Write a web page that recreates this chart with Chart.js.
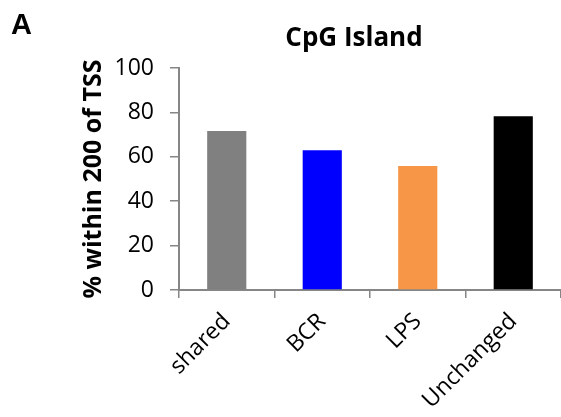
<!DOCTYPE html>
<html>
<head>
<meta charset="utf-8">
<script src="https://cdn.jsdelivr.net/npm/chart.js@4/dist/chart.umd.min.js"></script>
<style>
  html, body { margin: 0; padding: 0; background: #fff; }
  #wrap { width: 561px; height: 417px; }
</style>
</head>
<body>
<div id="wrap"><canvas id="c" width="561" height="417"></canvas></div>
<script>
// Categories, values and axis settings
const categories = ['shared', 'BCR', 'LPS', 'Unchanged'];
const pctWithinTSS = [71.6, 63.0, 55.8, 78.3];
const barColors = ['#808080', '#0000FF', '#F79646', '#000000'];
const yTicks = [0, 20, 40, 60, 80, 100];
const chartTitle = 'CpG Island';
const panelLabel = 'A';
const yAxisTitle = '% within 200 of TSS';

const axisGrey = '#868686';
const FONT = "'Open Sans', 'Liberation Sans', sans-serif";

// Panel letter and chart heading
const headings = {
  id: 'headings',
  afterDraw(chart) {
    const ctx = chart.ctx;
    ctx.save();
    ctx.fillStyle = '#000';
    ctx.textBaseline = 'alphabetic';
    ctx.textAlign = 'left';
    ctx.font = "bold 29px 'Liberation Sans', sans-serif";
    ctx.fillText(panelLabel, 11, 34);
    ctx.textAlign = 'center';
    ctx.font = 'bold 26px ' + FONT;
    ctx.fillText(chartTitle, 354, 46);
    ctx.restore();
  }
};

new Chart(document.getElementById('c'), {
  type: 'bar',
  data: {
    labels: categories,
    datasets: [{
      data: pctWithinTSS,
      backgroundColor: barColors,
      borderWidth: 0,
      barPercentage: 0.41,
      categoryPercentage: 1
    }]
  },
  options: {
    responsive: false,
    animation: false,
    devicePixelRatio: 1,
    layout: { padding: { left: 79, top: 68, right: 0, bottom: 0 } },
    plugins: {
      legend: { display: false },
      tooltip: { enabled: false },
      title: { display: false }
    },
    scales: {
      x: {
        offset: true,
        grid: {
          offset: true,
          drawOnChartArea: false,
          drawTicks: true,
          tickLength: 8,
          color: axisGrey,
          lineWidth: 1.5
        },
        border: { display: true, color: axisGrey, width: 2 },
        ticks: {
          color: '#000',
          font: { family: FONT, size: 23 },
          minRotation: 45,
          maxRotation: 45,
          padding: 10
        },
        afterFit(scale) { scale.height = 127; }
      },
      y: {
        min: 0,
        max: 100,
        afterBuildTicks(scale) { scale.ticks = yTicks.map(v => ({ value: v })); },
        grid: {
          drawOnChartArea: false,
          drawTicks: true,
          tickLength: 9,
          color: axisGrey,
          lineWidth: 1.5
        },
        border: { display: true, color: axisGrey, width: 2 },
        ticks: {
          color: '#000',
          font: { family: FONT, size: 23 },
          padding: 16
        },
        title: {
          display: true,
          text: yAxisTitle,
          color: '#000',
          font: { family: FONT, size: 25, weight: 'bold' },
          padding: 0
        },
        afterFit(scale) { scale.width = 100; }
      }
    }
  },
  plugins: [headings]
});
</script>
</body>
</html>
